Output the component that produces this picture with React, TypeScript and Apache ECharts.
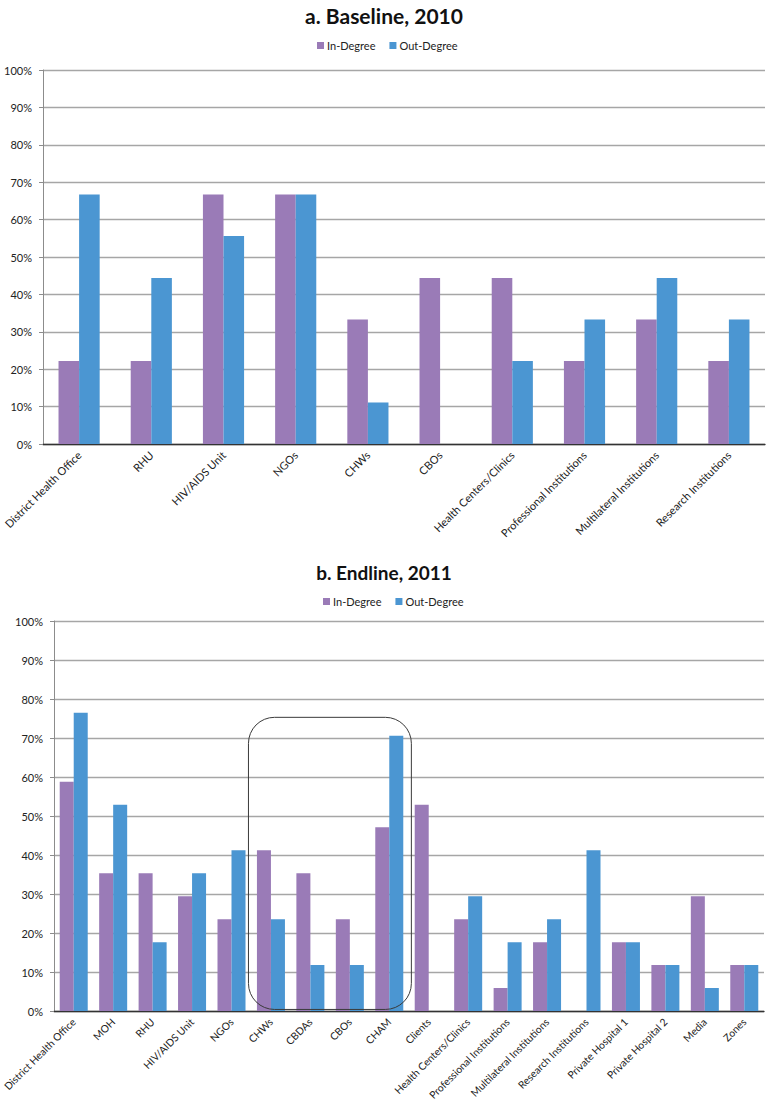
import React, { useEffect, useRef } from "react";
import * as echarts from "echarts";

const catsA = [
  "District Health Office",
  "RHU",
  "HIV/AIDS Unit",
  "NGOs",
  "CHWs",
  "CBOs",
  "Health Centers/Clinics",
  "Professional Institutions",
  "Multilateral Institutions",
  "Research Institutions",
];
const inA = [22.2, 22.2, 66.7, 66.7, 33.3, 44.4, 44.4, 22.2, 33.3, 22.2];
const outA = [66.7, 44.4, 55.6, 66.7, 11.1, 0, 22.2, 33.3, 44.4, 33.3];

const catsB = [
  "District Health Office",
  "MOH",
  "RHU",
  "HIV/AIDS Unit",
  "NGOs",
  "CHWs",
  "CBDAs",
  "CBOs",
  "CHAM",
  "Clients",
  "Health Centers/Clinics",
  "Professional Institutions",
  "Multilateral Institutions",
  "Research Institutions",
  "Private Hospital 1",
  "Private Hospital 2",
  "Media",
  "Zones",
];
const inB = [58.8, 35.3, 35.3, 29.4, 23.5, 41.2, 35.3, 23.5, 47.1, 52.9, 23.5, 5.9, 17.6, 0, 17.6, 11.8, 29.4, 11.8];
const outB = [76.5, 52.9, 17.6, 35.3, 41.2, 23.5, 11.8, 11.8, 70.6, 0, 29.4, 17.6, 23.5, 41.2, 17.6, 11.8, 5.9, 11.8];

const titles = ["a. Baseline, 2010", "b. Endline, 2011"];
const seriesNames = ["In-Degree", "Out-Degree"];
const boxFrom = "CHWs";
const boxTo = "CHAM";
const boxTop = 75.3;

const PURPLE = "#9A7BB7";
const BLUE = "#4B96D2";
const FONT = "Lato, 'Open Sans', sans-serif";

export default function App() {
  const ref = useRef<HTMLDivElement>(null);
  useEffect(() => {
    if (!ref.current) return;
    const chart = echarts.init(ref.current, null, { renderer: "svg" });
    const yAxis = (gi: number) => ({
      type: "value",
      gridIndex: gi,
      min: 0,
      max: 100,
      interval: 10,
      axisLine: { show: true, lineStyle: { color: "#8c8c8c", width: 1 } },
      axisTick: { show: true, length: 4, lineStyle: { color: "#8c8c8c" } },
      axisLabel: { formatter: "{value}%", color: "#222", fontSize: 11, fontFamily: FONT, margin: 11 },
      splitLine: { lineStyle: { color: "#a6a6a6", width: 1.3 } },
    });
    const xAxis = (gi: number, data: string[], fs: number) => ({
      type: "category",
      gridIndex: gi,
      data,
      axisLine: { show: true, lineStyle: { color: "#333", width: 1.3 } },
      axisTick: { show: false },
      axisLabel: { interval: 0, rotate: 45, color: "#222", fontSize: fs, fontFamily: FONT, margin: 9 },
    });
    const bar = (name: string, data: number[], gi: number, color: string, gap: string) => ({
      type: "bar",
      name,
      xAxisIndex: gi,
      yAxisIndex: gi,
      data,
      barGap: "0%",
      barCategoryGap: gap,
      itemStyle: { color },
    });
    const legend = (top: number, left: number) => ({
      top,
      left,
      itemWidth: 7,
      itemHeight: 7,
      itemGap: 14,
      icon: "rect",
      data: seriesNames,
      textStyle: { fontSize: 11, fontFamily: FONT, color: "#222", padding: [0, 0, 0, -2] },
    });
    chart.setOption({
      animation: false,
      backgroundColor: "#fff",
      title: [
        { text: titles[0], left: "center", top: 0, textStyle: { fontSize: 21, fontWeight: "bold", fontFamily: FONT, color: "#111" } },
        { text: titles[1], left: "center", top: 558, textStyle: { fontSize: 19, fontWeight: "bold", fontFamily: FONT, color: "#111" } },
      ],
      legend: [legend(35, 312), legend(591, 318)],
      grid: [
        { left: 43, right: 3, top: 70, height: 374, outerBoundsMode: "none", containLabel: false },
        { left: 54, right: 4, top: 621, height: 390, outerBoundsMode: "none", containLabel: false },
      ],
      xAxis: [xAxis(0, catsA, 11), xAxis(1, catsB, 10.3)],
      yAxis: [yAxis(0), yAxis(1)],
      series: [
        bar(seriesNames[0], inA, 0, PURPLE, "43%"),
        bar(seriesNames[1], outA, 0, BLUE, "43%"),
        bar(seriesNames[0], inB, 1, PURPLE, "29%"),
        bar(seriesNames[1], outB, 1, BLUE, "29%"),
      ],
    });
    const i0 = catsB.indexOf(boxFrom);
    const i1 = catsB.indexOf(boxTo);
    const p0 = chart.convertToPixel({ xAxisIndex: 1, yAxisIndex: 1 }, [i0, boxTop]) as number[];
    const p0n = chart.convertToPixel({ xAxisIndex: 1, yAxisIndex: 1 }, [i0 + 1, 0]) as number[];
    const p1 = chart.convertToPixel({ xAxisIndex: 1, yAxisIndex: 1 }, [i1, 0.4]) as number[];
    const bw = p0n[0] - p0[0];
    const x0 = p0[0] - 0.57 * bw;
    const x1 = p1[0] + 0.56 * bw;
    chart.setOption({
      graphic: [
        {
          type: "rect",
          shape: { x: x0, y: p0[1], width: x1 - x0, height: p1[1] - p0[1], r: 26 },
          style: { fill: "none", stroke: "#3a3a3a", lineWidth: 1 },
          z: 100,
        },
      ],
    });
    return () => chart.dispose();
  }, []);
  return (
    <div
      ref={ref}
      style={{ position: "absolute", left: 0, top: 0, width: 768, height: 1108, background: "#fff" }}
    />
  );
}
